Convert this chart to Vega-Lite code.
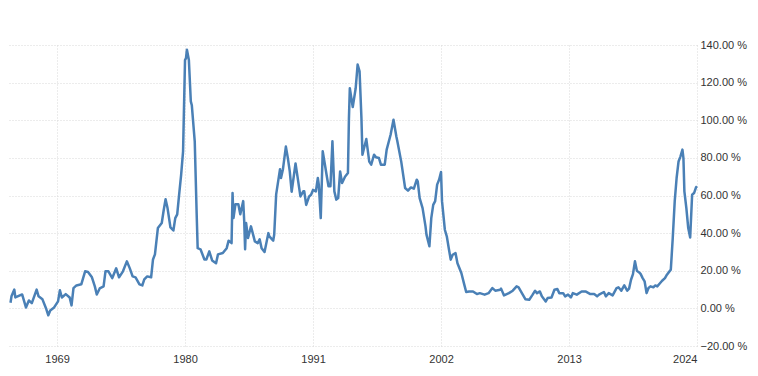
{
  "$schema": "https://vega.github.io/schema/vega-lite/v6.json",
  "width": 690,
  "height": 301,
  "autosize": {"type": "none"},
  "padding": {"left": 7, "top": 45, "right": 61, "bottom": 30},
  "background": "white",
  "config": {"view": {"stroke": null}, "font": "Liberation Sans"},
  "data": {"values": [
    {"date": "1965-01", "v": 3}, {"date": "1965-02", "v": 6.4}, {"date": "1965-05", "v": 10}, {"date": "1965-06", "v": 5.8},
    {"date": "1966-01", "v": 7.4}, {"date": "1966-05", "v": 0.5}, {"date": "1966-08", "v": 4.2}, {"date": "1966-11", "v": 2.8},
    {"date": "1967-04", "v": 10}, {"date": "1967-06", "v": 6.4}, {"date": "1967-10", "v": 4.8},
    {"date": "1968-02", "v": -0.5}, {"date": "1968-04", "v": -3.7}, {"date": "1968-06", "v": -1.1}, {"date": "1968-10", "v": 0.5},
    {"date": "1969-02", "v": 3.7}, {"date": "1969-04", "v": 9.6}, {"date": "1969-06", "v": 5.8}, {"date": "1969-10", "v": 7.6},
    {"date": "1970-02", "v": 5.8}, {"date": "1970-04", "v": 1.6}, {"date": "1970-06", "v": 10.8}, {"date": "1970-09", "v": 12.2},
    {"date": "1971-02", "v": 12.8}, {"date": "1971-06", "v": 19.7}, {"date": "1971-09", "v": 19.3},
    {"date": "1972-01", "v": 16.5}, {"date": "1972-04", "v": 11.7}, {"date": "1972-06", "v": 7.4}, {"date": "1972-09", "v": 10.6},
    {"date": "1973-01", "v": 11.7}, {"date": "1973-03", "v": 19.7}, {"date": "1973-06", "v": 19.7}, {"date": "1973-10", "v": 16.1},
    {"date": "1974-02", "v": 21.3}, {"date": "1974-05", "v": 16.5}, {"date": "1974-09", "v": 19.7},
    {"date": "1975-01", "v": 25}, {"date": "1975-04", "v": 21.4}, {"date": "1975-07", "v": 17}, {"date": "1975-10", "v": 16.5},
    {"date": "1976-02", "v": 12.8}, {"date": "1976-05", "v": 12.2}, {"date": "1976-07", "v": 15.4}, {"date": "1976-10", "v": 17},
    {"date": "1977-02", "v": 16.5}, {"date": "1977-04", "v": 26}, {"date": "1977-06", "v": 28.7}, {"date": "1977-09", "v": 42.7},
    {"date": "1978-01", "v": 45.4}, {"date": "1978-03", "v": 52}, {"date": "1978-05", "v": 58}, {"date": "1978-07", "v": 53.3}, {"date": "1978-10", "v": 43},
    {"date": "1979-01", "v": 41.4}, {"date": "1979-03", "v": 48}, {"date": "1979-05", "v": 50}, {"date": "1979-07", "v": 60.6}, {"date": "1979-09", "v": 71}, {"date": "1979-11", "v": 83.5},
    {"date": "1980-01", "v": 132}, {"date": "1980-02", "v": 133}, {"date": "1980-03", "v": 137.5}, {"date": "1980-05", "v": 132}, {"date": "1980-07", "v": 110}, {"date": "1980-08", "v": 108}, {"date": "1980-11", "v": 88.8},
    {"date": "1981-01", "v": 50}, {"date": "1981-02", "v": 32}, {"date": "1981-05", "v": 31.4}, {"date": "1981-09", "v": 26}, {"date": "1981-11", "v": 26},
    {"date": "1982-02", "v": 30.3}, {"date": "1982-05", "v": 25.5}, {"date": "1982-09", "v": 24}, {"date": "1982-11", "v": 28.7},
    {"date": "1983-04", "v": 29.4}, {"date": "1983-08", "v": 32}, {"date": "1983-10", "v": 36},
    {"date": "1984-01", "v": 34.7}, {"date": "1984-02", "v": 61.3}, {"date": "1984-03", "v": 48}, {"date": "1984-05", "v": 55.3}, {"date": "1984-08", "v": 55.3}, {"date": "1984-10", "v": 50},
    {"date": "1985-01", "v": 57}, {"date": "1985-02", "v": 46.3}, {"date": "1985-03", "v": 31.4}, {"date": "1985-04", "v": 45.4}, {"date": "1985-06", "v": 37.4}, {"date": "1985-09", "v": 43.6},
    {"date": "1986-01", "v": 35.6}, {"date": "1986-04", "v": 34.7}, {"date": "1986-06", "v": 36.7}, {"date": "1986-08", "v": 32}, {"date": "1986-11", "v": 30},
    {"date": "1987-03", "v": 40}, {"date": "1987-04", "v": 38.3}, {"date": "1987-08", "v": 36}, {"date": "1987-09", "v": 39.3}, {"date": "1987-11", "v": 60.6},
    {"date": "1988-03", "v": 74}, {"date": "1988-04", "v": 69.3}, {"date": "1988-06", "v": 74}, {"date": "1988-09", "v": 86}, {"date": "1988-11", "v": 80},
    {"date": "1989-01", "v": 72.8}, {"date": "1989-03", "v": 62}, {"date": "1989-07", "v": 77}, {"date": "1989-09", "v": 70}, {"date": "1989-12", "v": 59.5},
    {"date": "1990-03", "v": 62.2}, {"date": "1990-04", "v": 62.2}, {"date": "1990-06", "v": 55}, {"date": "1990-09", "v": 59.5}, {"date": "1990-11", "v": 60.4},
    {"date": "1991-01", "v": 63}, {"date": "1991-04", "v": 62.2}, {"date": "1991-06", "v": 69.3}, {"date": "1991-07", "v": 65.8}, {"date": "1991-09", "v": 48}, {"date": "1991-11", "v": 83.5},
    {"date": "1992-01", "v": 77.3}, {"date": "1992-03", "v": 71}, {"date": "1992-05", "v": 64.9}, {"date": "1992-07", "v": 64.9}, {"date": "1992-09", "v": 88.8}, {"date": "1992-11", "v": 62.2},
    {"date": "1993-01", "v": 57.8}, {"date": "1993-03", "v": 58.6}, {"date": "1993-05", "v": 72.8}, {"date": "1993-07", "v": 66.6}, {"date": "1993-10", "v": 70},
    {"date": "1994-01", "v": 72}, {"date": "1994-02", "v": 101}, {"date": "1994-03", "v": 117}, {"date": "1994-06", "v": 107}, {"date": "1994-09", "v": 117}, {"date": "1994-11", "v": 129.6},
    {"date": "1995-01", "v": 126}, {"date": "1995-03", "v": 101}, {"date": "1995-04", "v": 81.7}, {"date": "1995-08", "v": 90}, {"date": "1995-11", "v": 78},
    {"date": "1996-01", "v": 76.4}, {"date": "1996-04", "v": 81.7}, {"date": "1996-06", "v": 80.3}, {"date": "1996-09", "v": 79.9}, {"date": "1996-11", "v": 76.4},
    {"date": "1997-03", "v": 76.4}, {"date": "1997-05", "v": 84.4}, {"date": "1997-09", "v": 92.3}, {"date": "1997-12", "v": 100.3},
    {"date": "1998-03", "v": 91.4}, {"date": "1998-04", "v": 88.8}, {"date": "1998-08", "v": 78}, {"date": "1998-12", "v": 64},
    {"date": "1999-03", "v": 62.6}, {"date": "1999-06", "v": 64.3}, {"date": "1999-09", "v": 63.6}, {"date": "1999-12", "v": 68.4},
    {"date": "2000-01", "v": 67.5}, {"date": "2000-03", "v": 58.6}, {"date": "2000-06", "v": 53.3}, {"date": "2000-09", "v": 43.6}, {"date": "2000-10", "v": 39.2},
    {"date": "2001-01", "v": 33}, {"date": "2001-03", "v": 48}, {"date": "2001-05", "v": 55}, {"date": "2001-07", "v": 57}, {"date": "2001-09", "v": 65.8}, {"date": "2001-11", "v": 68.4},
    {"date": "2002-01", "v": 72.5}, {"date": "2002-02", "v": 57}, {"date": "2002-05", "v": 41.8}, {"date": "2002-07", "v": 38.3}, {"date": "2002-09", "v": 32}, {"date": "2002-11", "v": 25.9},
    {"date": "2003-01", "v": 28.5}, {"date": "2003-04", "v": 29.4}, {"date": "2003-06", "v": 24}, {"date": "2003-10", "v": 18.8},
    {"date": "2004-01", "v": 12.6}, {"date": "2004-03", "v": 8.7}, {"date": "2004-06", "v": 9}, {"date": "2004-10", "v": 9},
    {"date": "2005-02", "v": 7.6}, {"date": "2005-05", "v": 8.1}, {"date": "2005-10", "v": 7.3},
    {"date": "2006-02", "v": 8.1}, {"date": "2006-06", "v": 10.8}, {"date": "2006-09", "v": 9.4},
    {"date": "2007-02", "v": 9.9}, {"date": "2007-03", "v": 10.5}, {"date": "2007-06", "v": 6.9}, {"date": "2007-11", "v": 8.1},
    {"date": "2008-03", "v": 9.4}, {"date": "2008-07", "v": 11.7}, {"date": "2008-09", "v": 11.2},
    {"date": "2009-01", "v": 7.6}, {"date": "2009-04", "v": 4.9}, {"date": "2009-08", "v": 4.6}, {"date": "2009-11", "v": 6.9},
    {"date": "2010-02", "v": 9.4}, {"date": "2010-04", "v": 8.1}, {"date": "2010-07", "v": 9}, {"date": "2010-09", "v": 6.4},
    {"date": "2011-01", "v": 3.7}, {"date": "2011-03", "v": 5.5}, {"date": "2011-07", "v": 5.8}, {"date": "2011-10", "v": 9.9},
    {"date": "2012-01", "v": 10.3}, {"date": "2012-03", "v": 8.1}, {"date": "2012-07", "v": 8.1}, {"date": "2012-09", "v": 6.4}, {"date": "2012-12", "v": 7.3},
    {"date": "2013-03", "v": 5.8}, {"date": "2013-05", "v": 8.1}, {"date": "2013-09", "v": 7.3},
    {"date": "2014-02", "v": 9}, {"date": "2014-06", "v": 9}, {"date": "2014-11", "v": 7.6},
    {"date": "2015-03", "v": 7.6}, {"date": "2015-06", "v": 6.4}, {"date": "2015-08", "v": 7.3},
    {"date": "2016-01", "v": 8.7}, {"date": "2016-03", "v": 6.4}, {"date": "2016-06", "v": 8.1}, {"date": "2016-10", "v": 6.9},
    {"date": "2017-02", "v": 10.8}, {"date": "2017-04", "v": 11.2}, {"date": "2017-07", "v": 9.4}, {"date": "2017-10", "v": 12.2},
    {"date": "2018-01", "v": 9.4}, {"date": "2018-03", "v": 10.5}, {"date": "2018-05", "v": 15.2}, {"date": "2018-07", "v": 18.2}, {"date": "2018-09", "v": 25}, {"date": "2018-11", "v": 20},
    {"date": "2019-02", "v": 18.8}, {"date": "2019-03", "v": 18.2}, {"date": "2019-05", "v": 16.1}, {"date": "2019-07", "v": 14.4}, {"date": "2019-09", "v": 8.1}, {"date": "2019-11", "v": 10.8},
    {"date": "2020-01", "v": 11.7}, {"date": "2020-04", "v": 11.2}, {"date": "2020-06", "v": 12.2}, {"date": "2020-08", "v": 11.7}, {"date": "2020-11", "v": 13.5},
    {"date": "2021-01", "v": 14.7}, {"date": "2021-04", "v": 16.1}, {"date": "2021-06", "v": 17.9}, {"date": "2021-10", "v": 20.6}, {"date": "2021-12", "v": 37.4},
    {"date": "2022-02", "v": 57}, {"date": "2022-04", "v": 69.3}, {"date": "2022-06", "v": 78.1}, {"date": "2022-08", "v": 80.8}, {"date": "2022-10", "v": 84.4}, {"date": "2022-11", "v": 79.9}, {"date": "2022-12", "v": 62.2},
    {"date": "2023-02", "v": 53.3}, {"date": "2023-04", "v": 42.7}, {"date": "2023-06", "v": 37.7}, {"date": "2023-08", "v": 60.4}, {"date": "2023-10", "v": 61.3}, {"date": "2023-12", "v": 64.3},
    {"date": "2024-01", "v": 64.9}
  ]},
  "mark": {"type": "line", "color": "#4a80b6", "strokeWidth": 2.5, "strokeJoin": "round"},
  "encoding": {
    "x": {
      "field": "date", "type": "temporal",
      "scale": {"domain": [{"year": 1964, "month": 9, "date": 13}, {"year": 2024, "month": 1, "date": 1}]},
      "axis": {
        "title": null,
        "values": [{"year": 1969}, {"year": 1980}, {"year": 1991}, {"year": 2002}, {"year": 2013}, {"year": 2024}],
        "format": "%Y",
        "domain": false, "ticks": false,
        "labelPadding": 7, "labelFontSize": 11, "labelColor": "#333333",
        "gridColor": "#d9d9d9", "gridDash": [1, 2], "gridWidth": 1
      }
    },
    "y": {
      "field": "v", "type": "quantitative",
      "scale": {"domain": [-20, 140], "nice": false},
      "axis": {
        "title": null, "orient": "right",
        "values": [-20, 0, 20, 40, 60, 80, 100, 120, 140],
        "labelExpr": "format(datum.value, '.2f') + ' %'",
        "domain": false, "ticks": false,
        "labelPadding": 3, "labelFontSize": 11, "labelColor": "#333333",
        "gridColor": "#d9d9d9", "gridDash": [1, 2], "gridWidth": 1
      }
    }
  }
}
